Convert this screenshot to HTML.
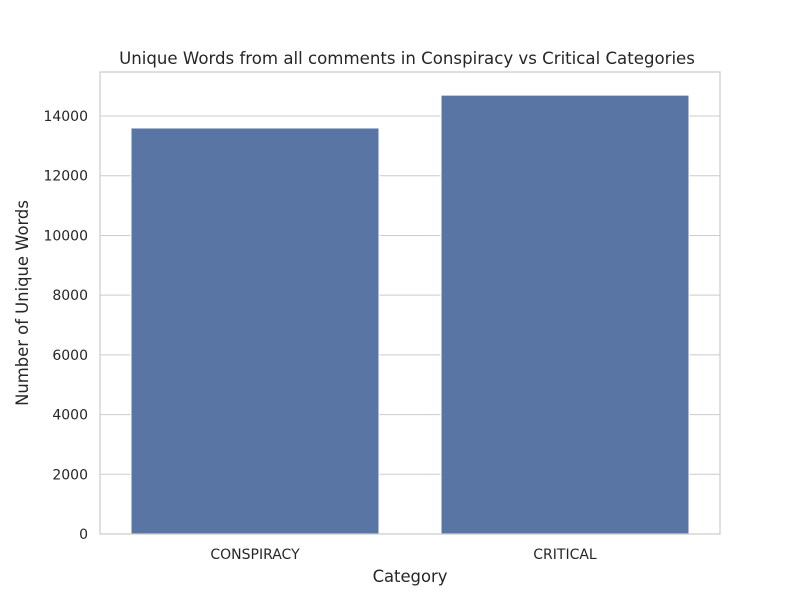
<!DOCTYPE html>
<html><head><meta charset="utf-8"><style>
body{margin:0;background:#fff;font-family:"DejaVu Sans","Liberation Sans",sans-serif;}
svg text{fill:#262626;}
</style></head><body>
<svg width="800" height="600" xmlns="http://www.w3.org/2000/svg">
<rect width="800" height="600" fill="#fff"/>
<g id="grid"></g>
<g id="bars"></g>
<rect x="100" y="72" width="620" height="462" fill="none" stroke="#cccccc" stroke-width="1.25"/>
<g id="yticks" font-size="14" text-anchor="end"></g>
<g id="xticks" font-size="14" text-anchor="middle"></g>
<text x="407" y="64" font-size="16.6" text-anchor="middle">Unique Words from all comments in Conspiracy vs Critical Categories</text>
<text x="410" y="582" font-size="16.4" text-anchor="middle">Category</text>
<text transform="translate(28,303) rotate(-90)" font-size="16.4" text-anchor="middle">Number of Unique Words</text>
</svg>
<script>
const categories = ["CONSPIRACY", "CRITICAL"];
const values = [13600, 14700];
const yTickValues = [0, 2000, 4000, 6000, 8000, 10000, 12000, 14000];
const NS = "http://www.w3.org/2000/svg";
const L = 100, R = 720, T = 72, B = 534;
const yMax = Math.max(...values) * 1.0527;
const y = v => B - v / yMax * (B - T);
const slot = (R - L) / categories.length;
const xc = i => L + slot * (i + 0.5);
function mk(tag, attrs, parent) {
  const e = document.createElementNS(NS, tag);
  for (const k in attrs) e.setAttribute(k, attrs[k]);
  document.getElementById(parent).appendChild(e);
  return e;
}
yTickValues.forEach(v => {
  const g = mk("line", {x1: L, x2: R, y1: y(v), y2: y(v), stroke: "#cccccc", "stroke-width": 1}, "grid");
  
  
  const t = mk("text", {x: L - 12, y: y(v) + 5}, "yticks");
  t.textContent = v;
  
  
});
categories.forEach((c, i) => {
  const w = slot * 0.8;
  const b = mk("rect", {x: xc(i) - w / 2, y: y(values[i]), width: w, height: B - y(values[i]), fill: "#5975a4", stroke: "#ffffff", "stroke-width": 1}, "bars");
  
  
  const t = mk("text", {x: xc(i), y: B + 25}, "xticks");
  t.textContent = c;
  
  
});
</script>
</body></html>
